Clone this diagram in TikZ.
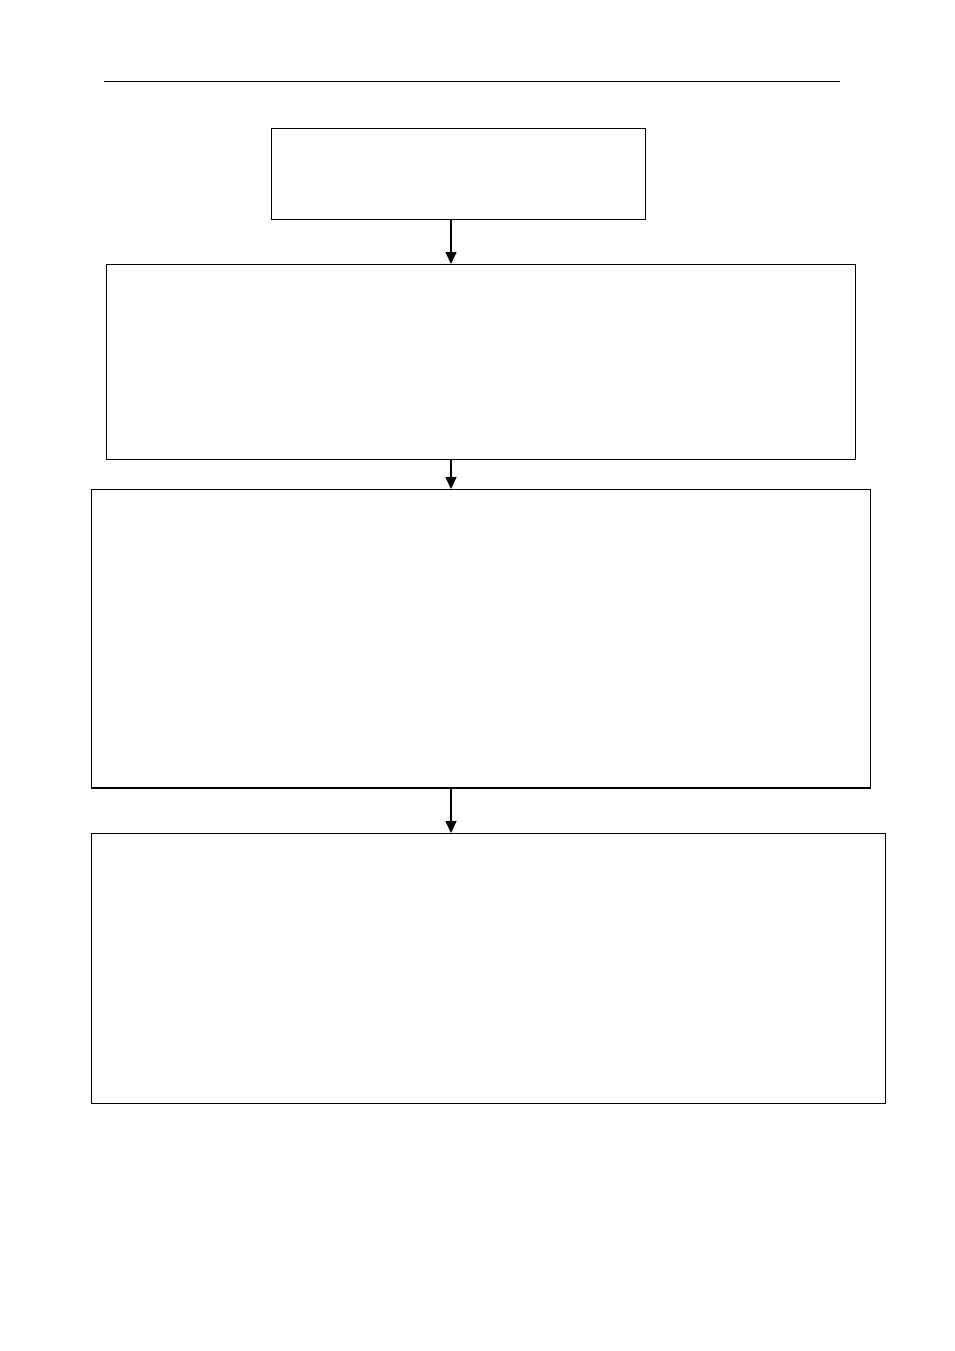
\documentclass[tikz,border=0pt]{standalone}
\usetikzlibrary{arrows.meta}
\begin{document}
\begin{tikzpicture}[x=1pt,y=-1pt,
  boxstyle/.style={draw=black,line width=1pt,inner sep=0pt,outer sep=0pt,fill=white},
  arr/.style={line width=1.6pt,-{Triangle[width=11pt,length=12pt]}}]
\useasboundingbox (0,0) rectangle (954,1351);
\fill[white] (0,0) rectangle (954,1351);
\coordinate (hl) at (104,82);
\coordinate (hr) at (840,82);
\draw[line width=1pt] (hl) -- (hr);
\coordinate (axis) at (451,0);
\node[boxstyle,minimum width=374pt,minimum height=90pt] (b1) at (458,174) {};
\node[boxstyle,minimum width=749pt,minimum height=195pt] (b2) at (480.5,361.5) {};
\node[boxstyle,minimum width=779pt,minimum height=299pt] (b3) at (480.5,638.5) {};
\node[boxstyle,minimum width=794pt,minimum height=270pt] (b4) at (488,968) {};
\draw[line width=2pt] (b3.south west) -- (b3.south east);
\draw[arr] (b1.south -| axis) -- (b2.north -| axis);
\draw[arr] (b2.south -| axis) -- (b3.north -| axis);
\draw[arr] (b3.south -| axis) -- (b4.north -| axis);
\end{tikzpicture}
\end{document}
